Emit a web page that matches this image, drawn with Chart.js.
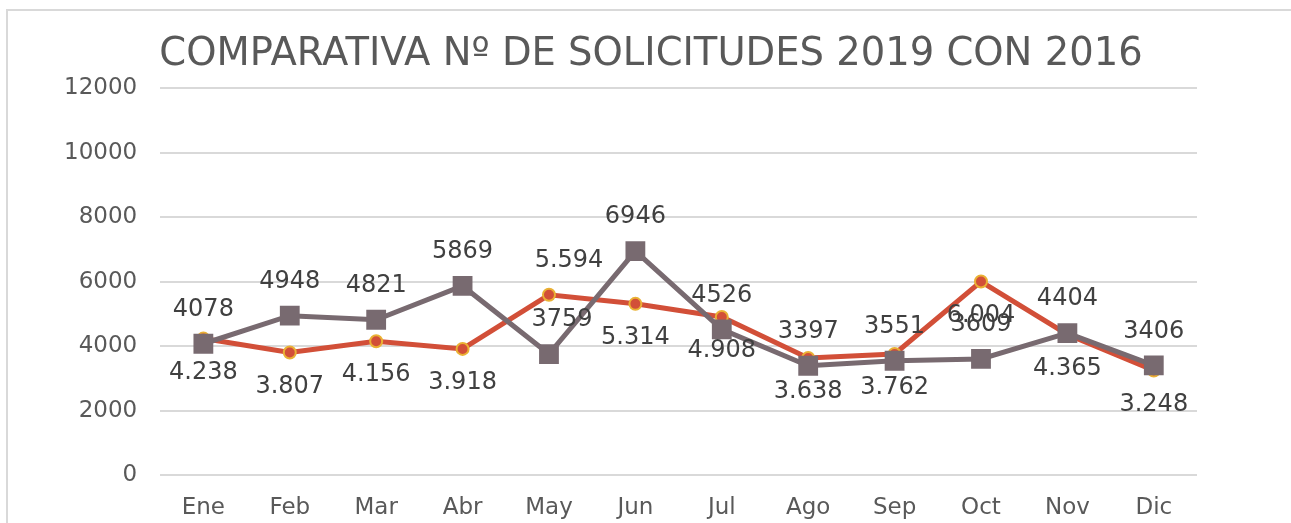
<!DOCTYPE html>
<html>
<head>
  <meta charset="UTF-8">
  <title>Comparativa solicitudes</title>
  <script src="https://cdn.jsdelivr.net/npm/chart.js"></script>
  <style>
    html, body { margin: 0; padding: 0; background: #fff; overflow: hidden; width: 1291px; height: 523px; }
    #frame { position: absolute; left: 6px; top: 9px; width: 1400px; height: 600px;
             border-left: 2px solid #d9d9d9; border-top: 2px solid #d9d9d9; }
    #titulo { position: absolute; left: 0; top: 29px; width: 1302px; text-align: center;
              font: 38.5px/46px "DejaVu Sans", Verdana, sans-serif; color: #595959; white-space: nowrap; }
    #chart-container { position: absolute; left: 0; top: 0; width: 1291px; height: 541px; }
  </style>
</head>
<body>
  <div id="frame"></div>
  <div id="chart-container">
    <canvas id="myChart"></canvas>
  </div>
  <div id="titulo">COMPARATIVA Nº DE SOLICITUDES 2019 CON 2016</div>
  <script>
    // meses
    const months = ["Ene", "Feb", "Mar", "Abr", "May", "Jun", "Jul", "Ago", "Sep", "Oct", "Nov", "Dic"];

    // serie roja (círculos)
    const serieRoja = [4238, 3807, 4156, 3918, 5594, 5314, 4908, 3638, 3762, 6004, 4365, 3248];
    // serie gris (cuadrados)
    const serieGris = [4078, 4948, 4821, 5869, 3759, 6946, 4526, 3397, 3551, 3609, 4404, 3406];

    const yTicks = [0, 2000, 4000, 6000, 8000, 10000, 12000];

    // donde va cada etiqueta: 1 = encima, -1 = debajo
    const ladoRoja = [-1, -1, -1, -1, 1, -1, -1, -1, -1, -1, -1, -1];
    const ladoGris = [1, 1, 1, 1, 1, 1, 1, 1, 1, 1, 1, 1];
    const desplazRoja = [0, 0, 0, 0, 20, 0, 0, 0, 0, 0, 0, 0];
    const desplazGris = [0, 0, 0, 0, 13, 0, 0, 0, 0, 0, 0, 0];

    const fuente = '"DejaVu Sans", Verdana, sans-serif';

    function conPunto(v) {
      return String(v).replace(/\B(?=(\d{3})+(?!\d))/g, '.');
    }

    // etiquetas de datos a mano (no hay plugin datalabels)
    const etiquetas = {
      id: 'etiquetas',
      afterDatasetsDraw(chart) {
        const ctx = chart.ctx;
        ctx.save();
        ctx.font = '24px ' + fuente;
        ctx.fillStyle = '#404040';
        ctx.textAlign = 'center';
        ctx.textBaseline = 'middle';
        chart.data.datasets.forEach((ds, di) => {
          const meta = chart.getDatasetMeta(di);
          meta.data.forEach((pt, i) => {
            const lado = ds.lados[i];
            ctx.fillText(ds.fmt(ds.data[i]), pt.x + ds.desplaz[i], pt.y - lado * 34);
          });
        });
        ctx.restore();
      }
    };

    const config = {
      type: 'line',
      data: {
        labels: months,
        datasets: [
          {
            label: '2019',
            data: serieGris,
            borderColor: '#786a70',
            backgroundColor: '#786a70',
            borderWidth: 5,
            pointStyle: 'rect',
            pointRadius: 14,
            pointBorderWidth: 0,
            pointBackgroundColor: '#786a70',
            tension: 0,
            lados: ladoGris,
            desplaz: desplazGris,
            fmt: v => String(v)
          },
          {
            label: '2016',
            data: serieRoja,
            borderColor: '#d24f38',
            backgroundColor: '#d24f38',
            borderWidth: 5,
            pointStyle: 'circle',
            pointRadius: 6,
            pointBorderWidth: 2,
            pointBorderColor: '#eab134',
            pointBackgroundColor: '#d24f38',
            tension: 0,
            lados: ladoRoja,
            desplaz: desplazRoja,
            fmt: conPunto
          }
        ]
      },
      options: {
        responsive: true,
        maintainAspectRatio: false,
        animation: false,
        layout: { padding: { left: 41, right: 94, top: 88, bottom: 0 } },
        plugins: {
          legend: { display: false },
          tooltip: { enabled: false },
          title: { display: false }
        },
        scales: {
          x: {
            offset: true,
            grid: { display: false, drawTicks: false },
            border: { display: false },
            ticks: {
              color: '#595959',
              padding: 19,
              font: { family: fuente, size: 23 }
            }
          },
          y: {
            min: 0,
            max: 12000,
            afterBuildTicks(scale) { scale.ticks = yTicks.map(v => ({ value: v })); },
            grid: { color: '#d9d9d9', lineWidth: 2, drawTicks: false },
            border: { display: false },
            ticks: {
              color: '#595959',
              padding: 23,
              font: { family: fuente, size: 23 },
              callback: v => String(v)
            }
          }
        }
      },
      plugins: [etiquetas]
    };

    new Chart(document.getElementById('myChart'), config);
  </script>
</body>
</html>
